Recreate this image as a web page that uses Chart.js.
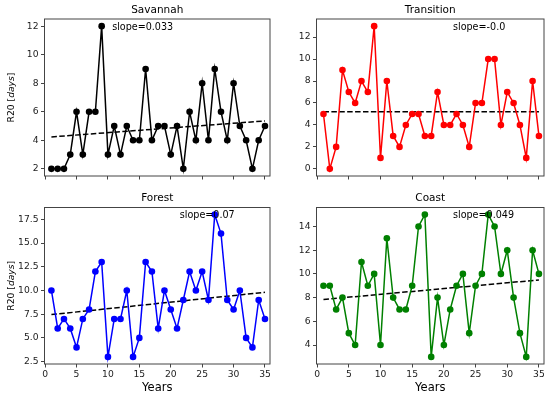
<!doctype html>
<html>
<head>
    <title>R20</title>
    <script src="https://cdn.jsdelivr.net/npm/chart.js"></script>
    <style>
        body { margin: 0; background: #fff; }
        .wrap { position: relative; width: 548px; height: 396px; }
        canvas { position: absolute; }
    </style>
</head>
<body>
<div class="wrap">
    <canvas id="savannah" width="274" height="186" style="left:0;top:0"></canvas>
    <canvas id="transition" width="274" height="186" style="left:274px;top:0"></canvas>
    <canvas id="forest" width="274" height="210" style="left:0;top:186px"></canvas>
    <canvas id="coast" width="274" height="210" style="left:274px;top:186px"></canvas>
</div>
<script>
    var years = [1, 2, 3, 4, 5, 6, 7, 8, 9, 10, 11, 12, 13, 14, 15, 16, 17, 18, 19, 20,
        21, 22, 23, 24, 25, 26, 27, 28, 29, 30, 31, 32, 33, 34, 35];
    var savannah = [2, 2, 2, 3, 6, 3, 6, 6, 12, 3, 5, 3, 5, 4, 4, 9, 4, 5, 5, 3,
        5, 2, 6, 4, 8, 4, 9, 6, 4, 8, 5, 4, 2, 4, 5];
    var transition = [5, 0, 2, 9, 7, 6, 8, 7, 13, 1, 8, 3, 2, 4, 5, 5, 3, 3, 7, 4,
        4, 5, 4, 2, 6, 6, 10, 10, 4, 7, 6, 4, 1, 8, 3];
    var forest = [10, 6, 7, 6, 4, 7, 8, 12, 13, 3, 7, 7, 10, 3, 5, 13, 12, 6, 10, 8,
        6, 9, 12, 10, 12, 9, 18, 16, 9, 8, 10, 5, 4, 9, 7];
    var coast = [9, 9, 7, 8, 5, 4, 11, 9, 10, 4, 13, 8, 7, 7, 9, 14, 15, 3, 8, 4,
        7, 9, 10, 5, 9, 10, 15, 14, 10, 12, 8, 5, 3, 12, 10];

    // trend lines, value at first and last year
    var trendYears = [1, 35];
    var savannahTrend = [4.24, 5.36];
    var transitionTrend = [5.2, 5.2];
    var forestTrend = [7.46, 9.81];
    var coastTrend = [7.84, 9.49];

    var slopeLabels = ['slope=0.033', 'slope=-0.0', 'slope=0.07', 'slope=0.049'];

    var xTicks = [0, 5, 10, 15, 20, 25, 30, 35];
    var savannahTicks = [2, 4, 6, 8, 10, 12];
    var transitionTicks = [0, 2, 4, 6, 8, 10, 12];
    var forestTicks = [2.5, 5, 7.5, 10, 12.5, 15, 17.5];
    var coastTicks = [4, 6, 8, 10, 12, 14];

    var FONT = '"DejaVu Sans", sans-serif';

    var boxPlugin = {
        id: 'box',
        afterDatasetsDraw: function (chart, args, o) {
            var a = chart.chartArea, c = chart.ctx;
            c.save();
            c.strokeStyle = '#444';
            c.lineWidth = 1;
            c.strokeRect(a.left, a.top, a.right - a.left, a.bottom - a.top);

            c.fillStyle = '#000';
            c.font = '9.6px ' + FONT;
            c.textAlign = 'left';
            c.textBaseline = 'middle';
            c.fillText(o.slope, a.left + o.slopeX * (a.right - a.left), a.top + 8);

            if (o.ylabel) {
                var parts = [['R20 [', ''], ['days', 'italic '], [']', '']];
                c.translate(12, (a.top + a.bottom) / 2);
                c.rotate(-Math.PI / 2);
                var total = 0;
                parts.forEach(function (p) {
                    c.font = p[1] + '9.2px ' + FONT;
                    total += c.measureText(p[0]).width;
                });
                var x = -total / 2;
                parts.forEach(function (p) {
                    c.font = p[1] + '9.2px ' + FONT;
                    c.fillText(p[0], x, 0);
                    x += c.measureText(p[0]).width;
                });
                c.setTransform(1, 0, 0, 1, 0, 0);
            }
            if (o.xlabel) {
                c.font = '11.5px ' + FONT;
                c.textAlign = 'center';
                c.fillText('Years', (a.left + a.right) / 2, a.bottom + 23.7);
            }
            c.restore();
        }
    };

    function panel(id, title, values, trend, color, yTicks, yMin, yMax, p) {
        var tickFmt = p.decimals ? function (v) { return v.toFixed(1); } : function (v) { return String(v); };
        new Chart(document.getElementById(id), {
            type: 'line',
            data: {
                datasets: [{
                    data: years.map(function (y, i) { return { x: y, y: values[i] }; }),
                    borderColor: color,
                    backgroundColor: color,
                    borderWidth: 1.5,
                    pointRadius: 3.3,
                    pointBorderWidth: 0,
                    tension: 0
                }, {
                    data: trendYears.map(function (y, i) { return { x: y, y: trend[i] }; }),
                    borderColor: '#000',
                    borderWidth: 1.5,
                    borderDash: [5.5, 2.4],
                    pointRadius: 0,
                    tension: 0
                }]
            },
            options: {
                responsive: false,
                animation: false,
                events: [],
                layout: { padding: { left: 0, right: p.padRight, top: 0, bottom: 0 } },
                plugins: {
                    legend: { display: false },
                    tooltip: { enabled: false },
                    title: {
                        display: true,
                        text: title,
                        fullSize: false,
                        color: '#000',
                        font: { family: FONT, size: 10.5, weight: 'normal' },
                        padding: { top: p.titleTop, bottom: p.titleBottom }
                    },
                    box: { slope: p.slope, slopeX: p.slopeX, ylabel: p.ylabel, xlabel: p.xlabel }
                },
                scales: {
                    x: {
                        type: 'linear',
                        min: -0.1,
                        max: 35.8,
                        afterBuildTicks: function (s) { s.ticks = xTicks.map(function (v) { return { value: v }; }); },
                        afterFit: function (s) { s.height = p.xHeight; },
                        border: { display: false },
                        grid: { drawOnChartArea: false, drawTicks: true, tickLength: 3.5, color: '#444', lineWidth: 1 },
                        ticks: {
                            autoSkip: false, maxRotation: 0, padding: 1.5, color: '#222',
                            font: { family: FONT, size: 9.2 },
                            callback: p.xlabel ? function (v) { return String(v); } : function () { return ''; }
                        }
                    },
                    y: {
                        min: yMin,
                        max: yMax,
                        afterBuildTicks: function (s) { s.ticks = yTicks.map(function (v) { return { value: v }; }); },
                        afterFit: function (s) { s.width = p.yWidth; },
                        border: { display: false },
                        grid: { drawOnChartArea: false, drawTicks: true, tickLength: 3.5, color: '#444', lineWidth: 1 },
                        ticks: {
                            autoSkip: false, padding: 2.5, color: '#222',
                            font: { family: FONT, size: 9.2 },
                            callback: tickFmt
                        }
                    }
                }
            },
            plugins: [boxPlugin]
        });
    }

    panel('savannah', 'Savannah', savannah, savannahTrend, '#000000', savannahTicks, 1.5, 12.5,
        { yWidth: 44.5, padRight: 2.5, xHeight: 10, titleTop: 3.7, titleBottom: 2.7, slope: slopeLabels[0], slopeX: 0.3, ylabel: true, xlabel: false });
    panel('transition', 'Transition', transition, transitionTrend, '#ff0000', transitionTicks, -0.65, 13.65,
        { yWidth: 42.5, padRight: 3, xHeight: 10, titleTop: 3.7, titleBottom: 2.7, slope: slopeLabels[1], slopeX: 0.6, ylabel: false, xlabel: false });
    panel('forest', 'Forest', forest, forestTrend, '#0000ff', forestTicks, 2.25, 18.75,
        { yWidth: 44.5, padRight: 2.5, xHeight: 32, titleTop: 6, titleBottom: 2.9, slope: slopeLabels[2], slopeX: 0.6, ylabel: true, xlabel: true, decimals: true });
    panel('coast', 'Coast', coast, coastTrend, '#008000', coastTicks, 2.4, 15.6,
        { yWidth: 42.5, padRight: 3, xHeight: 32, titleTop: 6, titleBottom: 2.9, slope: slopeLabels[3], slopeX: 0.6, ylabel: false, xlabel: true });
</script>
</body>
</html>
